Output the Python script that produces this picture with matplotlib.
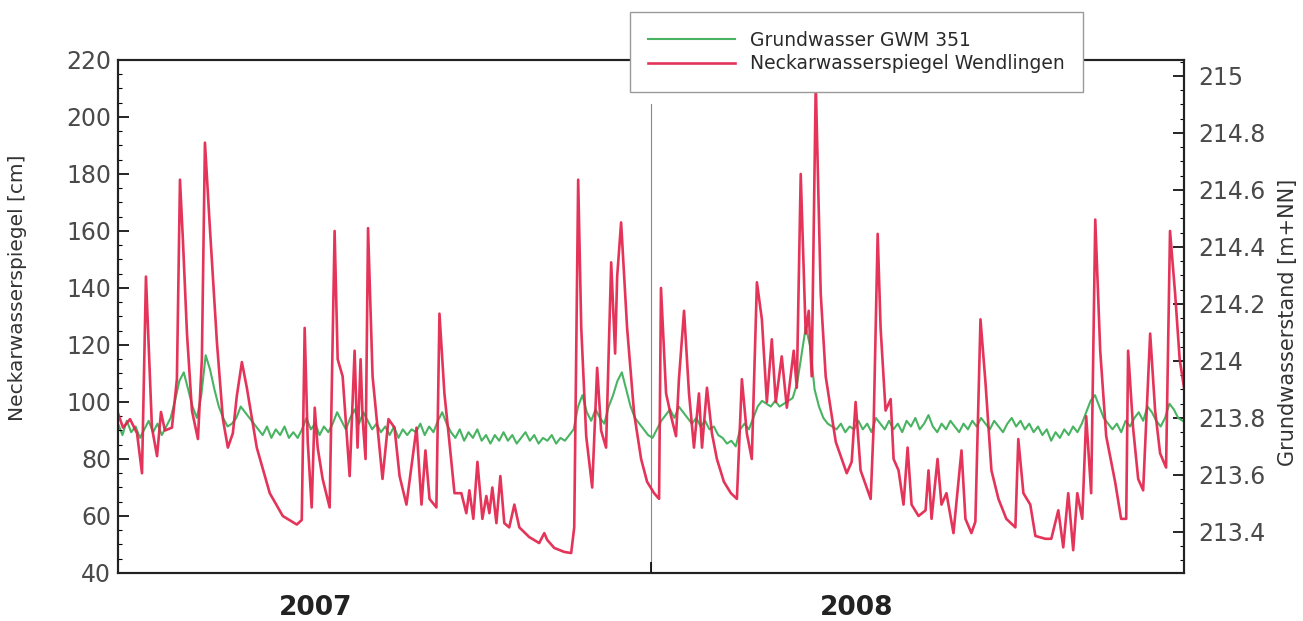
import numpy as np
import matplotlib
matplotlib.use('Agg')
import matplotlib.pyplot as plt
from matplotlib.ticker import MultipleLocator, FixedLocator, FuncFormatter

# Neckarwasserspiegel Wendlingen [cm], Tage ab 1.1.2007
neckar_tage = [0, 3.4, 8.2, 13, 16.4, 19.1, 23.2, 26.7, 29.4, 32.1, 36.9, 40.3,
               42.4, 44.4, 47.2, 50.6, 54.7, 57.4, 59.5, 62.9, 67.7, 71.8, 75.2,
               78.6, 81.3, 84.8, 88.2, 95, 103.9, 112.8, 122.4, 125.8, 127.8,
               129.9, 132.6, 134.7, 136.7, 140.1, 144.9, 148.3, 150.4, 153.8,
               158.6, 162, 164, 166.1, 167.5, 169.5, 171.2, 174.3, 177.7, 181.1,
               185.2, 189.3, 192.8, 197.5, 201.6, 204.4, 207.8, 210.5, 213.3,
               218, 220.1, 223.5, 226.9, 230.4, 235.1, 238.5, 240.6, 243.3,
               246.1, 249.5, 252.2, 254.3, 256.3, 259.1, 261.8, 264.5, 267.9,
               271.4, 274.8, 281.6, 288.4, 291.9, 293.9, 298.7, 305.5, 310.3,
               312.4, 315.1, 317.2, 320.6, 324.7, 328.1, 330.8, 334.2, 337.7,
               340.4, 341.8, 344.5, 348.6, 353.4, 358.2, 362.3, 367.1, 370.5,
               371.8, 375.3, 378.7, 382.1, 384.1, 387.6, 391, 394.4, 397.8,
               399.9, 403.3, 406.7, 410.1, 414.9, 419.7, 423.8, 427.2, 430.6,
               434, 437.5, 440.9, 444.3, 447.7, 450.4, 454.5, 458, 462.7, 464.8,
               467.5, 470.9, 473, 475, 477.8, 481.2, 484.6, 491.5, 499, 502.4,
               505.1, 508.5, 515.4, 517.4, 520.2, 522.2, 525.6, 529.1, 531.1,
               534.5, 537.9, 540.7, 543.4, 548.2, 553, 555, 557.1, 561.2, 563.9,
               567.3, 572.1, 577.6, 580.3, 584.4, 587.1, 590.6, 594, 598.1,
               602.9, 608.3, 614.5, 616.5, 620, 624.7, 628.2, 635, 639.1, 643.9,
               647.3, 650.7, 654.1, 656.9, 660.3, 663, 666.4, 669.2, 672.6,
               676.7, 682.8, 686.9, 690.4, 691.7, 695.1, 698.6, 702, 706.8,
               710.2, 713.6, 717.7, 720.4, 723.9, 727, 730]
neckar_cm = [96, 91, 94, 89, 75, 144, 91, 81, 96.5, 90, 91, 108,
             178, 157, 124, 97, 87, 115, 191, 161, 121, 94, 84,
             89, 102, 114, 105, 84, 68, 60, 57, 58.6, 126,
             86, 63, 98, 84, 73, 63, 160, 115, 109,
             74, 118, 84, 115, 94, 80, 161, 109, 91, 73,
             94, 91, 74, 64, 80, 91, 64, 83, 66,
             63, 131, 103, 86, 68, 68, 61, 69, 59,
             79, 59, 67, 61, 70, 57.5, 74, 57.5, 56,
             64, 56, 52.6, 50.5, 54, 51.6, 48.8, 47.4, 47,
             56, 178, 126, 88, 70, 112, 90, 84, 149,
             117, 144, 163, 126, 96, 80, 72, 68, 66,
             140, 103, 95, 88, 108, 132, 103, 84, 103,
             84, 105, 89, 80, 72, 68, 66, 108, 89,
             80, 142, 129, 100, 122, 100, 116, 98, 118, 105,
             180, 124, 132, 109, 212, 138, 109, 86, 75, 79,
             100, 76, 66, 91, 159, 126, 97, 101, 80,
             76, 64, 84, 64, 60, 62, 76, 59, 80, 64,
             68, 54, 83, 59, 54, 58, 129, 107, 76,
             66, 59, 56, 87, 68, 64, 53, 52, 52, 62,
             49, 68, 48, 68, 59, 95, 68, 164, 118,
             88, 72, 59, 59, 118, 91, 73, 69, 124,
             97, 82, 77, 160, 138, 115, 105]

# Grundwasser GWM 351 [m+NN], Messung alle 3 Tage
gwm_stand = [213.78, 213.74, 213.79, 213.75, 213.77, 213.73, 213.76, 213.79,
             213.75, 213.78, 213.74, 213.77, 213.80, 213.86, 213.93, 213.96,
             213.90, 213.84, 213.80, 213.88, 214.02, 213.97, 213.90, 213.84,
             213.80, 213.77, 213.78, 213.80, 213.84, 213.82, 213.80, 213.78,
             213.76, 213.74, 213.77, 213.73, 213.76, 213.74, 213.77, 213.73,
             213.75, 213.73, 213.76, 213.80, 213.76, 213.78, 213.74, 213.77,
             213.75, 213.78, 213.82, 213.79, 213.76, 213.80, 213.83, 213.78,
             213.82, 213.79, 213.76, 213.78, 213.75, 213.77, 213.74, 213.77,
             213.73, 213.76, 213.74, 213.76, 213.75, 213.78, 213.74, 213.77,
             213.75, 213.79, 213.82, 213.78, 213.75, 213.73, 213.76, 213.72,
             213.75, 213.73, 213.76, 213.72, 213.74, 213.71, 213.74, 213.72,
             213.75, 213.72, 213.74, 213.71, 213.73, 213.75, 213.72, 213.74,
             213.71, 213.73, 213.72, 213.74, 213.71, 213.73, 213.72, 213.74,
             213.76, 213.84, 213.88, 213.82, 213.79, 213.83, 213.80, 213.78,
             213.84, 213.88, 213.93, 213.96, 213.90, 213.84, 213.80, 213.78,
             213.76, 213.74, 213.73, 213.76, 213.79, 213.81, 213.83, 213.80,
             213.84, 213.82, 213.80, 213.78, 213.80, 213.77, 213.79, 213.76,
             213.77, 213.74, 213.73, 213.71, 213.72, 213.70, 213.76, 213.78,
             213.76, 213.80, 213.84, 213.86, 213.85, 213.84, 213.86, 213.84,
             213.85, 213.86, 213.87, 213.92, 214.02, 214.12, 214.05, 213.90,
             213.84, 213.80, 213.78, 213.77, 213.76, 213.78, 213.75, 213.77,
             213.76, 213.79, 213.76, 213.78, 213.75, 213.80, 213.78, 213.76,
             213.79, 213.76, 213.78, 213.75, 213.79, 213.77, 213.80, 213.76,
             213.78, 213.81, 213.77, 213.75, 213.78, 213.76, 213.79, 213.77,
             213.75, 213.78, 213.76, 213.79, 213.77, 213.80, 213.78, 213.76,
             213.79, 213.77, 213.75, 213.78, 213.80, 213.77, 213.79, 213.76,
             213.78, 213.75, 213.77, 213.74, 213.76, 213.72, 213.75, 213.73,
             213.76, 213.74, 213.77, 213.75, 213.78, 213.82, 213.86, 213.88,
             213.84, 213.80, 213.78, 213.76, 213.78, 213.75, 213.79, 213.77,
             213.80, 213.82, 213.79, 213.84, 213.82, 213.79, 213.77, 213.80,
             213.85, 213.83, 213.80, 213.79]
gwm_tage = np.arange(len(gwm_stand)) * 3

jahre = ['2007', '2008']
jahr_label_tag = [135, 506]
jahreswechsel = 365

fig = plt.figure(figsize=(13.03, 6.21), dpi=100)
ax = fig.add_axes([0.0906, 0.0773, 0.8181, 0.8261])
ax2 = ax.twinx()

l_gw, = ax2.plot(gwm_tage, gwm_stand, color='#48b462', lw=1.5,
                 label='Grundwasser GWM 351')
l_ne, = ax.plot(neckar_tage, neckar_cm, color='#e2234b', lw=1.9, alpha=0.92,
                label='Neckarwasserspiegel Wendlingen')
ax.axvline(jahreswechsel, ymax=0.915, color='#888888', lw=0.8, zorder=1)

# Neckar-Achse über die Grundwasser-Achse legen
ax.set_zorder(ax2.get_zorder() + 1)
ax.patch.set_visible(False)

ax.set_xlim(0, 730)
ax.set_ylim(40, 220)
ax2.set_ylim(213.256, 215.056)

tick_col = '#4a4a4a'
ax.yaxis.set_major_locator(MultipleLocator(20))
ax.yaxis.set_minor_locator(MultipleLocator(5))
ax.tick_params(axis='y', which='major', direction='in', length=8, width=1.2,
               labelsize=17, labelcolor=tick_col, pad=5)
ax.tick_params(axis='y', which='minor', direction='in', length=3, width=0.8)

ax2.yaxis.set_major_locator(FixedLocator([213.4, 213.6, 213.8, 214.0, 214.2,
                                          214.4, 214.6, 214.8, 215.0]))
ax2.yaxis.set_minor_locator(MultipleLocator(0.05))
ax2.yaxis.set_major_formatter(FuncFormatter(lambda v, p: f'{v:g}'))
ax2.tick_params(axis='y', which='major', direction='in', length=8, width=1.2,
                labelsize=17, labelcolor=tick_col, pad=10)
ax2.tick_params(axis='y', which='minor', direction='in', length=3, width=0.8)

ax.xaxis.set_major_locator(FixedLocator([jahreswechsel]))
ax.xaxis.set_major_formatter(FuncFormatter(lambda v, p: ''))
ax.xaxis.set_minor_locator(FixedLocator(jahr_label_tag))
ax.set_xticklabels(jahre, minor=True)
ax.tick_params(axis='x', which='major', direction='in', length=8, width=1.2)
ax.tick_params(axis='x', which='minor', length=0, pad=16, labelsize=19,
               labelcolor='#222222')
for t in ax.get_xticklabels(minor=True):
    t.set_fontweight('bold')

for a in (ax, ax2):
    for s in a.spines.values():
        s.set_linewidth(1.5)
        s.set_color('#222222')

ax.set_ylabel('Neckarwasserspiegel [cm]', fontsize=14.5, color='#333333')
ax.yaxis.set_label_coords(-0.085, 0.556)
ax2.set_ylabel('Grundwasserstand [m+NN]', fontsize=15, color='#333333')
ax2.yaxis.set_label_coords(1.088, 0.489)

leg = ax.legend(handles=[l_gw, l_ne], loc='upper left',
                bbox_to_anchor=(0.48, 1.094), borderaxespad=0,
                fontsize=13.5, frameon=True, fancybox=False, framealpha=1,
                edgecolor='#9a9a9a', borderpad=1.0, handlelength=4.6,
                handletextpad=0.8, labelspacing=0.25)
leg.get_frame().set_linewidth(1.0)
for t in leg.get_texts():
    t.set_color('#2a2a2a')
leg.set_zorder(10)

fig.savefig('out.png', dpi=100, facecolor='white')
